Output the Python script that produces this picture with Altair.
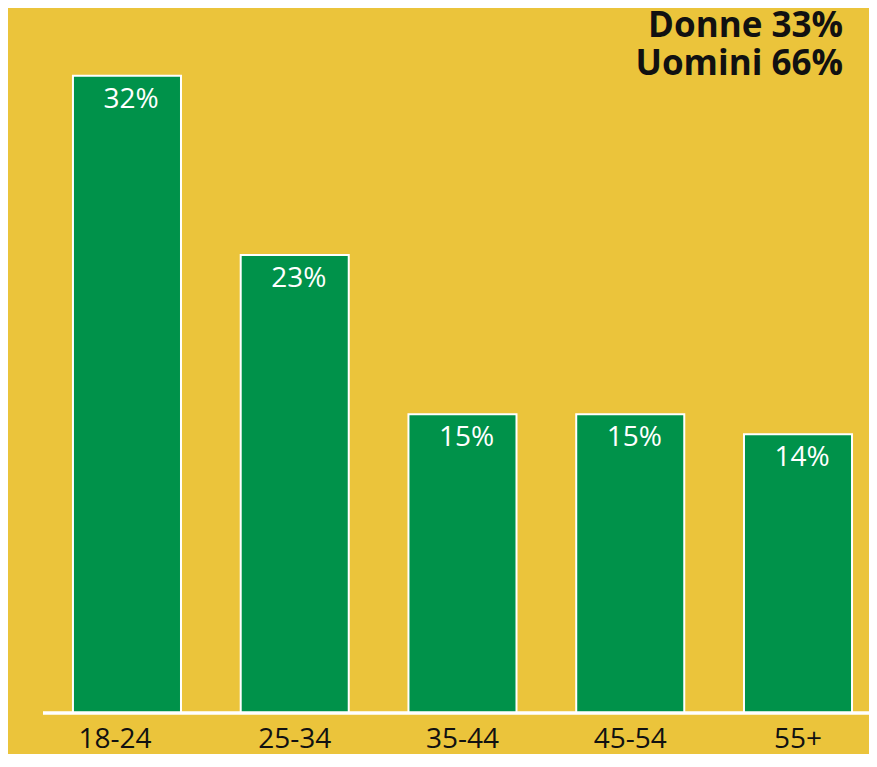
import altair as alt
import pandas as pd

categories = ["18-24", "25-34", "35-44", "45-54", "55+"]
values = [32, 23, 15, 15, 14]
labels = ["32%", "23%", "15%", "15%", "14%"]
gender_lines = ["Donne 33%", "Uomini 66%"]

df = pd.DataFrame({"age": categories, "pct": values, "label": labels})

W, H = 821, 697
YELLOW = "#EBC43B"
GREEN = "#00924A"

x = alt.X(
    "age:N",
    sort=categories,
    scale=alt.Scale(paddingInner=0.356, paddingOuter=0.125, align=0.595),
    axis=alt.Axis(
        title=None, domain=False, ticks=False, grid=False, labelAngle=0,
        labelFont="Open Sans", labelFontSize=28, labelColor="#111111",
        labelBaseline="alphabetic", labelPadding=34,
        labelOffset={"condition": {"test": "datum.value === '18-24'", "value": -12}, "value": 0},
    ),
)
y = alt.Y("pct:Q", scale=alt.Scale(domain=[0, 35]), axis=None)

bars = alt.Chart(df).mark_bar(color=GREEN, stroke="white", strokeWidth=2).encode(x=x, y=y)
text = alt.Chart(df).mark_text(
    color="white", font="Open Sans", fontSize=28, baseline="alphabetic", dy=32, dx=4
).encode(x=x, y=y, text="label:N")
base = alt.Chart(df).mark_rule(color="white", strokeWidth=2.5).encode(
    x=alt.value(-5), x2=alt.value(W), y=alt.value(H)
)

gender_layers = []
for i, line in enumerate(gender_lines):
    gdf = pd.DataFrame({"t": [line]})
    gender_layers.append(
        alt.Chart(gdf).mark_text(
            align="right", baseline="alphabetic",
            font="Open Sans", fontWeight="bold", fontSize=35, color="#111111"
        ).encode(x=alt.value(795), y=alt.value(21 + 38 * i), text="t:N")
    )

chart = (
    alt.layer(bars, base, text, *gender_layers)
    .properties(
        width=W, height=H, background=YELLOW,
        autosize=alt.AutoSizeParams(type="none"),
        padding={"left": 40, "top": 8, "right": 0, "bottom": 41},
    )
    .configure_view(stroke=None)
)
chart.save("out.html", embed_options={"renderer": "svg", "actions": False})
